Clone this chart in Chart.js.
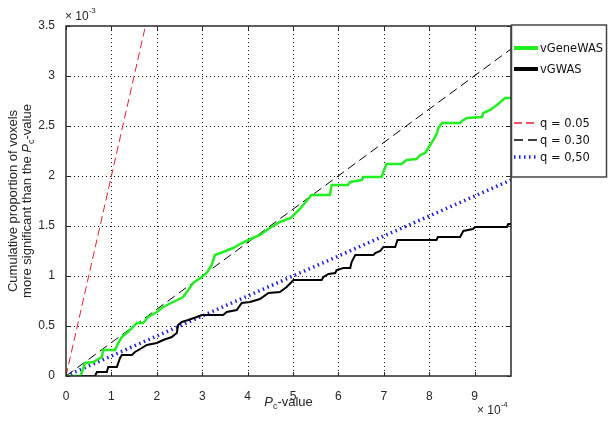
<!DOCTYPE html>
<html>
<head>
<meta charset="utf-8">
<script src="https://cdn.jsdelivr.net/npm/chart.js@4.4.0/dist/chart.umd.min.js"></script>
<style>
  body { margin: 0; background: #fff; }
  canvas { display: block; }
</style>
</head>
<body>
<canvas id="myChart" width="614" height="421"></canvas>
<script>
// x in units of 1e-4 (Pc-value), y in units of 1e-3 (cumulative proportion)
const geneWasPoints = [
    [0, 0], [0.32, 0], [0.42, 0.13], [0.60, 0.14], [0.79, 0.19], [0.82, 0.26], [1.08, 0.26],
    [1.15, 0.33], [1.23, 0.39], [1.41, 0.46], [1.56, 0.53], [1.70, 0.53], [1.81, 0.59], [2.00, 0.64],
    [2.14, 0.69], [2.36, 0.74], [2.58, 0.79], [2.69, 0.86], [2.80, 0.93], [2.99, 0.99], [3.10, 1.03],
    [3.21, 1.11], [3.28, 1.21], [3.46, 1.24], [3.68, 1.28], [3.87, 1.33], [4.02, 1.36], [4.27, 1.41],
    [4.49, 1.48], [4.71, 1.54], [4.95, 1.58], [5.15, 1.67], [5.37, 1.79], [5.40, 1.81], [5.81, 1.81],
    [5.85, 1.91], [6.21, 1.91], [6.26, 1.94], [6.51, 1.96], [6.55, 1.99], [6.95, 1.99], [7.03, 2.09],
    [7.06, 2.12], [7.39, 2.12], [7.50, 2.16], [7.72, 2.17], [7.80, 2.21], [7.91, 2.23], [8.02, 2.31],
    [8.09, 2.36], [8.17, 2.43], [8.20, 2.48], [8.28, 2.53], [8.68, 2.53], [8.72, 2.55], [8.83, 2.58],
    [9.16, 2.59], [9.19, 2.63], [9.34, 2.66], [9.49, 2.71], [9.67, 2.78], [9.80, 2.78]
];
const gwasPoints = [
    [0, 0], [0.64, 0], [0.68, 0.04], [0.90, 0.04], [0.93, 0.09], [1.12, 0.09], [1.19, 0.18],
    [1.23, 0.21], [1.45, 0.21], [1.52, 0.24], [1.67, 0.28], [1.78, 0.31], [2.00, 0.33], [2.14, 0.36],
    [2.33, 0.39], [2.44, 0.43], [2.47, 0.51], [2.55, 0.54], [2.69, 0.56], [2.88, 0.59], [2.99, 0.61],
    [3.46, 0.61], [3.54, 0.64], [3.76, 0.66], [3.87, 0.73], [4.05, 0.74], [4.27, 0.77], [4.46, 0.83],
    [4.71, 0.84], [4.86, 0.89], [5.01, 0.96], [5.63, 0.96], [5.67, 0.99], [5.78, 1.02], [5.93, 1.03],
    [5.96, 1.06], [6.11, 1.08], [6.26, 1.08], [6.29, 1.14], [6.37, 1.21], [6.77, 1.21], [6.81, 1.23],
    [6.92, 1.25], [6.99, 1.29], [7.25, 1.29], [7.30, 1.36], [8.16, 1.36], [8.19, 1.39], [8.68, 1.39],
    [8.75, 1.45], [8.96, 1.47], [9.01, 1.49], [9.71, 1.49], [9.74, 1.52], [9.80, 1.52]
];
// threshold lines y = x / q
const q05Line = [[0, 0], [1.75, 3.5]];
const q30Line = [[0, 0], [9.8, 3.27]];
const q50Line = [[0, 0], [9.8, 1.96]];

const xTickValues = [0, 1, 2, 3, 4, 5, 6, 7, 8, 9];
const xTickLabels = ['0', '1', '2', '3', '4', '5', '6', '7', '8', '9'];
const yTickValues = [0, 0.5, 1, 1.5, 2, 2.5, 3, 3.5];
const yTickLabels = ['0', '0.5', '1', '1.5', '2', '2.5', '3', '3.5'];

const FONT = '"Liberation Sans", Arial, sans-serif';
const LEGEND_FONT = '"DejaVu Sans", sans-serif';
const toXY = pts => pts.map(([x, y]) => ({ x, y }));

// draws a run of text pieces (italic, subscript...) one after another
function drawParts(ctx, parts, x, y, center) {
    let total = 0;
    parts.forEach(p => { ctx.font = p.font; p.w = ctx.measureText(p.text).width; total += p.w; });
    let cx = center ? x - total / 2 : x;
    ctx.textAlign = 'left';
    parts.forEach(p => {
        ctx.font = p.font;
        ctx.fillText(p.text, cx, y + (p.dy || 0));
        cx += p.w;
    });
}

const matlabAxes = {
    id: 'matlabAxes',
    beforeDatasetsDraw(chart) {
        const { ctx, chartArea: a, scales: { x, y } } = chart;
        ctx.save();
        ctx.strokeStyle = '#111';
        ctx.lineWidth = 1;
        ctx.setLineDash([1, 3]);
        x.ticks.forEach(t => {
            const px = Math.round(x.getPixelForValue(t.value)) + 0.5;
            if (px <= a.left + 1 || px >= a.right - 1) return;
            ctx.beginPath(); ctx.moveTo(px, a.top); ctx.lineTo(px, a.bottom); ctx.stroke();
        });
        y.ticks.forEach(t => {
            const py = Math.round(y.getPixelForValue(t.value)) + 0.5;
            if (py <= a.top + 1 || py >= a.bottom - 1) return;
            ctx.beginPath(); ctx.moveTo(a.left, py); ctx.lineTo(a.right, py); ctx.stroke();
        });
        ctx.restore();
    },
    afterDraw(chart) {
        const { ctx, chartArea: a, scales: { x, y } } = chart;
        ctx.save();
        // box + inward ticks
        ctx.strokeStyle = '#2a2a2a';
        ctx.lineWidth = 1.5;
        ctx.setLineDash([]);
        ctx.strokeRect(a.left, a.top, a.right - a.left, a.bottom - a.top);
        ctx.lineWidth = 1;
        x.ticks.forEach(t => {
            const px = Math.round(x.getPixelForValue(t.value)) + 0.5;
            ctx.beginPath();
            ctx.moveTo(px, a.bottom); ctx.lineTo(px, a.bottom - 4);
            ctx.moveTo(px, a.top); ctx.lineTo(px, a.top + 4);
            ctx.stroke();
        });
        y.ticks.forEach(t => {
            const py = Math.round(y.getPixelForValue(t.value)) + 0.5;
            ctx.beginPath();
            ctx.moveTo(a.left, py); ctx.lineTo(a.left + 4, py);
            ctx.moveTo(a.right, py); ctx.lineTo(a.right - 4, py);
            ctx.stroke();
        });

        // exponent labels
        ctx.fillStyle = '#262626';
        ctx.textBaseline = 'alphabetic';
        drawParts(ctx, [
            { text: '\u00d7 10', font: '12px ' + FONT },
            { text: '-3', font: '8px ' + FONT, dy: -7 }
        ], a.left - 1, a.top - 6, false);
        drawParts(ctx, [
            { text: '\u00d7 10', font: '12px ' + FONT },
            { text: '-4', font: '8px ' + FONT, dy: -7 }
        ], a.right - 34, 414, false);

        // axis titles
        const pc = [
            { text: 'P', font: 'italic 13px ' + FONT },
            { text: 'c', font: '9px ' + FONT, dy: 3 },
            { text: '-value', font: '13px ' + FONT }
        ];
        drawParts(ctx, pc, (a.left + a.right) / 2, 406, true);

        const midY = (a.top + a.bottom) / 2;
        ctx.save();
        ctx.translate(17, midY);
        ctx.rotate(-Math.PI / 2);
        drawParts(ctx, [{ text: 'Cumulative proportion of voxels', font: '13px ' + FONT }], 0, 0, true);
        ctx.restore();
        ctx.save();
        ctx.translate(31, midY);
        ctx.rotate(-Math.PI / 2);
        drawParts(ctx, [{ text: 'more significant than the ', font: '13px ' + FONT }].concat(
            pc.map(p => Object.assign({}, p))), 0, 0, true);
        ctx.restore();

        // legend box
        const lx = a.right, ly = a.top - 1, lw = 95, lh = 152;
        ctx.fillStyle = '#fff';
        ctx.fillRect(lx, ly, lw, lh);
        ctx.strokeStyle = '#444';
        ctx.lineWidth = 1.5;
        ctx.strokeRect(lx + 0.5, ly, lw, lh);
        const rows = [48, 69, 123, 140, 157];
        chart.data.datasets.forEach((ds, i) => {
            const ry = rows[i];
            const solid = !ds.borderDash;
            ctx.strokeStyle = ds.borderColor;
            ctx.lineWidth = solid ? 4 : Math.max(ds.borderWidth, 1.5);
            ctx.setLineDash(ds.borderDash || []);
            ctx.lineCap = 'butt';
            ctx.beginPath();
            ctx.moveTo(lx + 3, ry); ctx.lineTo(lx + 27, ry);
            ctx.stroke();
            ctx.setLineDash([]);
            ctx.fillStyle = '#111';
            ctx.font = '11.5px ' + LEGEND_FONT;
            ctx.textBaseline = 'middle';
            ctx.textAlign = 'left';
            ctx.fillText(ds.label, lx + 29, ry + 1);
        });
        ctx.restore();
    }
};

const ctx = document.getElementById('myChart').getContext('2d');
new Chart(ctx, {
    type: 'scatter',
    data: {
        datasets: [
            { label: 'vGeneWAS', data: toXY(geneWasPoints), borderColor: '#22ee22', borderWidth: 2.5 },
            { label: 'vGWAS', data: toXY(gwasPoints), borderColor: '#000', borderWidth: 2 },
            { label: 'q = 0.05', data: toXY(q05Line), borderColor: '#e8202e', borderWidth: 1, borderDash: [8, 4] },
            { label: 'q = 0.30', data: toXY(q30Line), borderColor: '#000', borderWidth: 1, borderDash: [9, 5] },
            { label: 'q = 0,50', data: toXY(q50Line), borderColor: '#1c1cdc', borderWidth: 3.5, borderDash: [1.5, 3.5] }
        ].map(ds => Object.assign(ds, { showLine: true, pointRadius: 0, tension: 0, fill: false }))
    },
    options: {
        responsive: false,
        animation: false,
        layout: { padding: { left: 26, right: 103, top: 26, bottom: 21 } },
        plugins: { legend: { display: false }, tooltip: { enabled: false } },
        scales: {
            x: {
                type: 'linear', min: 0, max: 9.8,
                afterBuildTicks: s => { s.ticks = xTickValues.map(v => ({ value: v })); },
                afterFit: s => { s.height = 24; },
                grid: { display: false },
                border: { display: false },
                ticks: {
                    padding: 5, color: '#262626', font: { family: FONT, size: 12 },
                    maxRotation: 0, autoSkip: false,
                    callback: (v, i) => xTickLabels[i]
                }
            },
            y: {
                type: 'linear', min: 0, max: 3.5,
                afterBuildTicks: s => { s.ticks = yTickValues.map(v => ({ value: v })); },
                afterFit: s => { s.width = 40; },
                grid: { display: false },
                border: { display: false },
                ticks: {
                    padding: 3, color: '#262626', font: { family: FONT, size: 12 },
                    autoSkip: false,
                    callback: (v, i) => yTickLabels[i]
                }
            }
        }
    },
    plugins: [matlabAxes]
});
</script>
</body>
</html>
